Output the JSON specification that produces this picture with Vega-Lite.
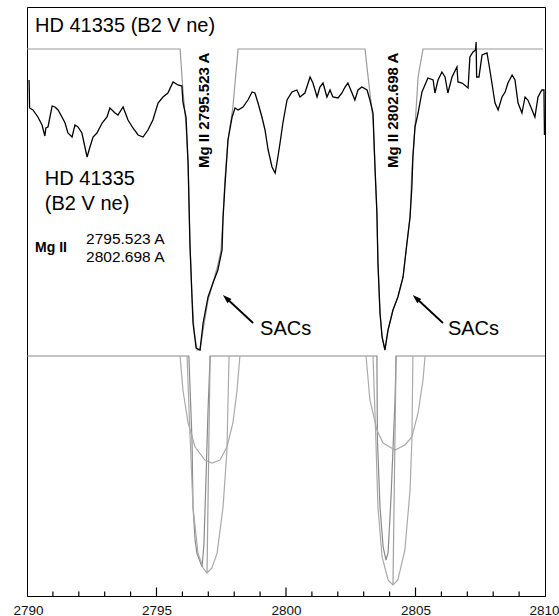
{
  "$schema": "https://vega.github.io/schema/vega-lite/v6.json",
  "width": 518,
  "height": 589,
  "autosize": {"type": "none"},
  "padding": {"left": 27, "top": 7, "right": 14, "bottom": 20},
  "background": "white",
  "config": {"view": {"stroke": "#000", "strokeWidth": 1}, "font": "Liberation Sans"},
  "datasets": {
    "spectrum": [
      {"w":2790.08,"f":516},{"w":2790.10,"f":488},{"w":2790.23,"f":486},{"w":2790.42,"f":479},{"w":2790.58,"f":471},{"w":2790.69,"f":460},{"w":2790.73,"f":468},{"w":2790.81,"f":469},{"w":2790.97,"f":490},{"w":2791.08,"f":489},{"w":2791.20,"f":486},{"w":2791.35,"f":479},{"w":2791.47,"f":473},{"w":2791.58,"f":463},{"w":2791.74,"f":459},{"w":2791.85,"f":471},{"w":2791.97,"f":469},{"w":2792.12,"f":463},{"w":2792.32,"f":439},{"w":2792.43,"f":449},{"w":2792.55,"f":459},{"w":2792.70,"f":463},{"w":2792.90,"f":473},{"w":2793.09,"f":479},{"w":2793.20,"f":488},{"w":2793.40,"f":483},{"w":2793.51,"f":481},{"w":2793.71,"f":489},{"w":2793.90,"f":476},{"w":2794.09,"f":468},{"w":2794.29,"f":461},{"w":2794.48,"f":459},{"w":2794.67,"f":466},{"w":2794.86,"f":476},{"w":2795.06,"f":493},{"w":2795.25,"f":499},{"w":2795.44,"f":503},{"w":2795.64,"f":514},{"w":2795.83,"f":511},{"w":2795.98,"f":510},{"w":2796.02,"f":494},{"w":2796.14,"f":479},{"w":2796.22,"f":433},{"w":2796.29,"f":353},{"w":2796.37,"f":299},{"w":2796.41,"f":273},{"w":2796.53,"f":248},{"w":2796.68,"f":246},{"w":2796.80,"f":273},{"w":2796.99,"f":299},{"w":2797.18,"f":313},{"w":2797.37,"f":326},{"w":2797.53,"f":346},{"w":2797.57,"f":379},{"w":2797.64,"f":409},{"w":2797.76,"f":456},{"w":2797.92,"f":479},{"w":2798.03,"f":488},{"w":2798.15,"f":486},{"w":2798.34,"f":489},{"w":2798.53,"f":496},{"w":2798.69,"f":504},{"w":2798.80,"f":503},{"w":2798.92,"f":493},{"w":2799.07,"f":479},{"w":2799.19,"f":466},{"w":2799.31,"f":446},{"w":2799.46,"f":429},{"w":2799.58,"f":423},{"w":2799.65,"f":433},{"w":2799.77,"f":453},{"w":2799.88,"f":473},{"w":2800.04,"f":496},{"w":2800.23,"f":504},{"w":2800.42,"f":506},{"w":2800.54,"f":499},{"w":2800.73,"f":503},{"w":2800.93,"f":519},{"w":2801.04,"f":513},{"w":2801.20,"f":499},{"w":2801.31,"f":509},{"w":2801.43,"f":513},{"w":2801.58,"f":499},{"w":2801.70,"f":506},{"w":2801.81,"f":499},{"w":2802.01,"f":498},{"w":2802.16,"f":503},{"w":2802.28,"f":509},{"w":2802.39,"f":513},{"w":2802.55,"f":503},{"w":2802.66,"f":496},{"w":2802.78,"f":506},{"w":2802.93,"f":509},{"w":2803.13,"f":506},{"w":2803.24,"f":496},{"w":2803.36,"f":483},{"w":2803.44,"f":426},{"w":2803.51,"f":383},{"w":2803.55,"f":333},{"w":2803.63,"f":283},{"w":2803.71,"f":259},{"w":2803.82,"f":246},{"w":2803.94,"f":266},{"w":2804.13,"f":286},{"w":2804.32,"f":299},{"w":2804.52,"f":319},{"w":2804.67,"f":353},{"w":2804.79,"f":379},{"w":2804.86,"f":409},{"w":2804.90,"f":439},{"w":2804.98,"f":469},{"w":2805.10,"f":483},{"w":2805.25,"f":504},{"w":2805.48,"f":518},{"w":2805.68,"f":516},{"w":2805.75,"f":503},{"w":2805.87,"f":516},{"w":2806.02,"f":524},{"w":2806.14,"f":519},{"w":2806.25,"f":503},{"w":2806.41,"f":519},{"w":2806.60,"f":529},{"w":2806.64,"f":514},{"w":2806.80,"f":513},{"w":2807.03,"f":508},{"w":2807.10,"f":539},{"w":2807.22,"f":544},{"w":2807.32,"f":546},{"w":2807.34,"f":554},{"w":2807.36,"f":519},{"w":2807.45,"f":519},{"w":2807.57,"f":541},{"w":2807.76,"f":543},{"w":2807.84,"f":531},{"w":2807.95,"f":513},{"w":2808.07,"f":493},{"w":2808.19,"f":486},{"w":2808.34,"f":499},{"w":2808.46,"f":504},{"w":2808.57,"f":513},{"w":2808.73,"f":521},{"w":2808.84,"f":516},{"w":2808.96,"f":493},{"w":2809.11,"f":483},{"w":2809.23,"f":499},{"w":2809.34,"f":496},{"w":2809.50,"f":486},{"w":2809.61,"f":479},{"w":2809.73,"f":499},{"w":2809.88,"f":506},{"w":2809.96,"f":506},{"w":2809.98,"f":461}
    ],
    "models": [
      {"s":"top","w":2790.00,"f":547},{"s":"top","w":2795.91,"f":547},{"s":"top","w":2796.02,"f":506},{"s":"top","w":2796.14,"f":471},{"s":"top","w":2796.22,"f":431},{"s":"top","w":2796.29,"f":353},{"s":"top","w":2796.37,"f":299},{"s":"top","w":2796.45,"f":266},{"s":"top","w":2796.56,"f":246},{"s":"top","w":2796.68,"f":246},{"s":"top","w":2796.80,"f":266},{"s":"top","w":2796.99,"f":296},{"s":"top","w":2797.18,"f":313},{"s":"top","w":2797.37,"f":331},{"s":"top","w":2797.49,"f":346},{"s":"top","w":2797.57,"f":379},{"s":"top","w":2797.64,"f":416},{"s":"top","w":2797.76,"f":456},{"s":"top","w":2797.95,"f":489},{"s":"top","w":2798.15,"f":547},{"s":"top","w":2803.05,"f":547},{"s":"top","w":2803.17,"f":519},{"s":"top","w":2803.36,"f":476},{"s":"top","w":2803.44,"f":426},{"s":"top","w":2803.51,"f":383},{"s":"top","w":2803.55,"f":333},{"s":"top","w":2803.63,"f":283},{"s":"top","w":2803.71,"f":259},{"s":"top","w":2803.82,"f":246},{"s":"top","w":2803.94,"f":266},{"s":"top","w":2804.13,"f":286},{"s":"top","w":2804.32,"f":299},{"s":"top","w":2804.52,"f":319},{"s":"top","w":2804.67,"f":353},{"s":"top","w":2804.79,"f":379},{"s":"top","w":2804.86,"f":426},{"s":"top","w":2804.98,"f":469},{"s":"top","w":2805.10,"f":519},{"s":"top","w":2805.29,"f":547},{"s":"top","w":2809.92,"f":547},
      {"s":"mid","w":2790.00,"f":240},{"s":"mid","w":2796.25,"f":240},{"s":"mid","w":2796.37,"f":156},{"s":"mid","w":2796.41,"f":89},{"s":"mid","w":2796.49,"f":56},{"s":"mid","w":2796.56,"f":43},{"s":"mid","w":2796.76,"f":29},{"s":"mid","w":2796.83,"f":51},{"s":"mid","w":2796.91,"f":116},{"s":"mid","w":2796.99,"f":186},{"s":"mid","w":2797.07,"f":240},{"s":"mid","w":2803.51,"f":240},{"s":"mid","w":2803.53,"f":156},{"s":"mid","w":2803.63,"f":89},{"s":"mid","w":2803.75,"f":49},{"s":"mid","w":2803.86,"f":36},{"s":"mid","w":2803.94,"f":43},{"s":"mid","w":2804.05,"f":96},{"s":"mid","w":2804.13,"f":146},{"s":"mid","w":2804.21,"f":196},{"s":"mid","w":2804.25,"f":240},{"s":"mid","w":2810.00,"f":240},
      {"s":"A1","w":2795.91,"f":240},{"s":"A1","w":2796.02,"f":206},{"s":"A1","w":2796.22,"f":173},{"s":"A1","w":2796.49,"f":149},{"s":"A1","w":2796.87,"f":136},{"s":"A1","w":2797.14,"f":133},{"s":"A1","w":2797.45,"f":136},{"s":"A1","w":2797.72,"f":149},{"s":"A1","w":2797.95,"f":173},{"s":"A1","w":2798.11,"f":206},{"s":"A1","w":2798.22,"f":240},
      {"s":"B1","w":2796.18,"f":240},{"s":"B1","w":2796.29,"f":163},{"s":"B1","w":2796.41,"f":89},{"s":"B1","w":2796.60,"f":43},{"s":"B1","w":2796.80,"f":28},{"s":"B1","w":2796.95,"f":23},{"s":"B1","w":2797.14,"f":28},{"s":"B1","w":2797.34,"f":43},{"s":"B1","w":2797.57,"f":89},{"s":"B1","w":2797.72,"f":146},{"s":"B1","w":2797.80,"f":240},
      {"s":"D1","w":2796.95,"f":23},{"s":"D1","w":2797.07,"f":240},
      {"s":"A2","w":2803.09,"f":240},{"s":"A2","w":2803.24,"f":196},{"s":"A2","w":2803.51,"f":166},{"s":"A2","w":2803.75,"f":153},{"s":"A2","w":2804.21,"f":146},{"s":"A2","w":2804.59,"f":151},{"s":"A2","w":2804.86,"f":159},{"s":"A2","w":2805.10,"f":183},{"s":"A2","w":2805.29,"f":216},{"s":"A2","w":2805.37,"f":240},
      {"s":"B2","w":2803.36,"f":240},{"s":"B2","w":2803.47,"f":156},{"s":"B2","w":2803.55,"f":89},{"s":"B2","w":2803.71,"f":39},{"s":"B2","w":2803.94,"f":16},{"s":"B2","w":2804.13,"f":11},{"s":"B2","w":2804.32,"f":16},{"s":"B2","w":2804.59,"f":46},{"s":"B2","w":2804.79,"f":106},{"s":"B2","w":2804.86,"f":156},{"s":"B2","w":2804.90,"f":240},
      {"s":"D2","w":2804.13,"f":11},{"s":"D2","w":2804.25,"f":240}
    ]
  },
  "encoding": {
    "x": {
      "field": "w", "type": "quantitative",
      "scale": {"domain": [2790, 2810], "nice": false, "zero": false},
      "axis": {
        "title": null, "grid": false,
        "values": [2790, 2795, 2800, 2805, 2810],
        "format": "d",
        "ticks": false,
        "domainColor": "#000",
        "labelFont": "Liberation Sans", "labelFontSize": 13.5, "labelColor": "#111",
        "labelPadding": 7, "labelBaseline": "top",
        "labelFlush": true, "labelFlushOffset": 14, "labelOverlap": false, "labelBound": false
      }
    },
    "y": {"field": "f", "type": "quantitative", "scale": {"domain": [0, 589], "nice": false, "zero": false}, "axis": null}
  },
  "layer": [
    {
      "data": {"name": "models"},
      "mark": {"type": "line", "strokeWidth": 1.2},
      "encoding": {
        "color": {"field": "s", "type": "nominal", "legend": null,
          "scale": {"domain": ["top","mid","A1","B1","D1","A2","B2","D2"],
                    "range": ["#9a9a9a","#8a8a8a","#aaaaaa","#aaaaaa","#a0a0a0","#aaaaaa","#aaaaaa","#a0a0a0"]}}
      }
    },
    {
      "data": {"name": "spectrum"},
      "mark": {"type": "line", "color": "#000", "strokeWidth": 1.3}
    },
    {
      "data": {"values": [{"w": 2791, "f": 0}, {"w": 2792, "f": 0}, {"w": 2793, "f": 0}, {"w": 2794, "f": 0}, {"w": 2796, "f": 0}, {"w": 2797, "f": 0}, {"w": 2798, "f": 0}, {"w": 2799, "f": 0}, {"w": 2801, "f": 0}, {"w": 2802, "f": 0}, {"w": 2803, "f": 0}, {"w": 2804, "f": 0}, {"w": 2806, "f": 0}, {"w": 2807, "f": 0}, {"w": 2808, "f": 0}, {"w": 2809, "f": 0}]},
      "mark": {"type": "tick", "orient": "vertical", "color": "#000", "thickness": 1.2, "size": 9, "opacity": 1, "clip": true}
    },
    {
      "data": {"values": [{"w": 2795, "f": 0}, {"w": 2800, "f": 0}, {"w": 2805, "f": 0}]},
      "mark": {"type": "tick", "orient": "vertical", "color": "#000", "thickness": 1.2, "size": 17, "opacity": 1, "clip": true}
    },
    {
      "data": {"values": [{"w": 2790.31, "f": 564, "t": "HD 41335 (B2 V ne)"}, {"w": 2790.69, "f": 411, "t": "HD 41335"}, {"w": 2790.69, "f": 386, "t": "(B2 V ne)"}]},
      "mark": {"type": "text", "align": "left", "baseline": "alphabetic", "fontSize": 20, "font": "Liberation Sans", "color": "#000"},
      "encoding": {"text": {"field": "t"}}
    },
    {
      "data": {"values": [{"w": 2790.31, "f": 344, "t": "Mg II"}]},
      "mark": {"type": "text", "align": "left", "baseline": "alphabetic", "fontSize": 14, "fontWeight": "bold", "font": "Liberation Sans", "color": "#000"},
      "encoding": {"text": {"field": "t"}}
    },
    {
      "data": {"values": [{"w": 2792.28, "f": 352, "t": "2795.523 A"}, {"w": 2792.28, "f": 334, "t": "2802.698 A"}]},
      "mark": {"type": "text", "align": "left", "baseline": "alphabetic", "fontSize": 15.5, "font": "Liberation Sans", "color": "#000"},
      "encoding": {"text": {"field": "t"}}
    },
    {
      "data": {"values": [{"w": 2797.03, "f": 428, "t": "Mg II  2795.523 A"}, {"w": 2804.32, "f": 428, "t": "Mg II  2802.698 A"}]},
      "mark": {"type": "text", "angle": 270, "align": "left", "baseline": "alphabetic", "fontSize": 15, "fontWeight": "bold", "font": "Liberation Sans", "color": "#000"},
      "encoding": {"text": {"field": "t"}}
    },
    {
      "data": {"values": [{"w": 2799.00, "f": 261, "t": "SACs"}, {"w": 2806.25, "f": 261, "t": "SACs"}]},
      "mark": {"type": "text", "align": "left", "baseline": "alphabetic", "fontSize": 20, "font": "Liberation Sans", "color": "#000"},
      "encoding": {"text": {"field": "t"}}
    },
    {
      "data": {"values": [{"w": 2798.73, "f": 273, "w2": 2797.69, "f2": 298}, {"w": 2806.06, "f": 273, "w2": 2805.02, "f2": 298}]},
      "mark": {"type": "rule", "color": "#000", "strokeWidth": 1.8},
      "encoding": {"x2": {"field": "w2"}, "y2": {"field": "f2"}}
    },
    {
      "data": {"values": [{"w": 2797.69, "f": 298}, {"w": 2805.02, "f": 298}]},
      "mark": {"type": "point", "shape": "M0,-1L0.65,1L-0.65,1Z", "filled": true, "size": 81, "angle": 313, "color": "#000", "opacity": 1}
    }
  ]
}
